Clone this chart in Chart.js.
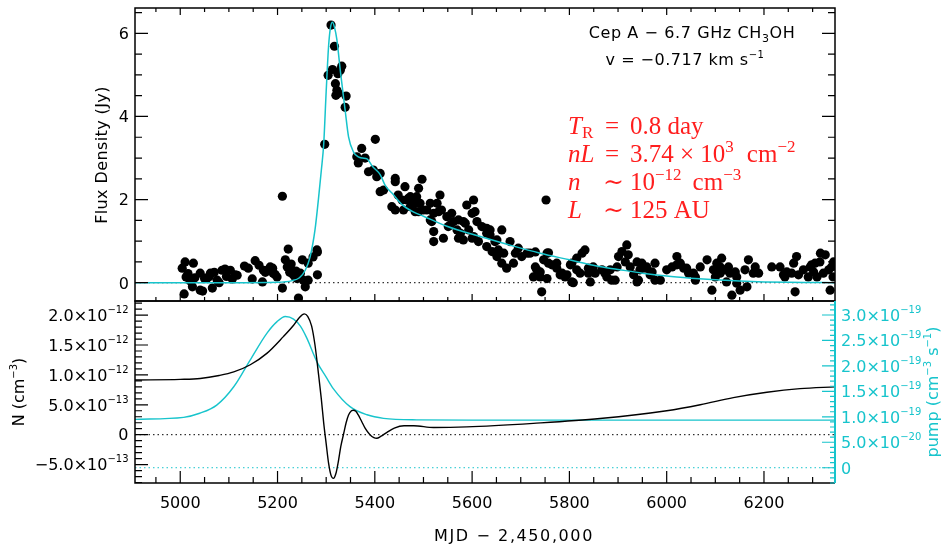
<!DOCTYPE html>
<html>
<head>
<meta charset="utf-8">
<script src="https://cdn.jsdelivr.net/npm/chart.js@4.4.1/dist/chart.umd.min.js"></script>
<style>
  html, body { margin: 0; padding: 0; background: #fff; }
  #wrap { position: relative; width: 943px; height: 544px; }
  #wrap canvas { position: absolute; left: 0; top: 0; }
</style>
</head>
<body>
<div id="wrap">
  <canvas id="fluxPanel" width="943" height="544"></canvas>
  <canvas id="modelPanel" width="943" height="544"></canvas>
</div>
<script>
// observed flux density (Jy) vs MJD - 2,450,000
const baseMjd = [5004,5008,5010,5012,5016,5020,5025,5027,5030,5041,
  5041,5046,5050,5055,5060,5062,5066,5070,5076,5080,
  5086,5092,5095,5103,5107,5113,5117,5132,5140,5148,
  5154,5162,5169,5171,5175,5179,5185,5190,5191,5195,
  5199,5210,5210,5216,5220,5222,5225,5228,5230,5232,
  5236,5238,5240,5243,5245,5247,5251,5253,5257,5263,
  5263,5273,5281,5282,5282];
const baseFlux = [0.35,-0.27,0.50,0.14,0.22,0.05,-0.10,0.47,0.12,0.23,
  -0.18,-0.20,0.10,0.11,0.15,0.23,-0.13,0.25,0.06,0.00,
  0.30,0.33,0.15,0.30,0.09,0.19,0.18,0.40,0.35,0.09,
  0.53,0.42,0.02,0.30,0.25,0.30,0.38,0.35,0.23,0.20,
  0.14,2.08,-0.13,0.55,0.38,0.81,0.25,0.45,0.30,0.20,
  0.14,0.28,0.10,-0.37,0.20,0.23,0.55,0.06,-0.10,0.06,
  0.47,0.62,0.79,0.74,0.19];

const flareMjd = [5297,5304,5310,5313,5317,5319,5320,5322,5324,5325,5329,5332,5339,5341];
const flareFlux = [3.33,4.99,6.20,5.13,5.69,4.79,4.51,4.63,5.03,4.56,5.11,5.21,4.22,4.49];

const decayMjd = [5363,5366,5373,5380,5387,5397,5401,5404,5411,5411,
  5418,5435,5442,5442,5442,5448,5456,5459,5462,5466,
  5469,5473,5473,5476,5483,5483,5486,5490,5490,5493,
  5497,5500,5507,5514,5514,5517,5521,5521,5521,5528,
  5531,5534,5537,5541,5548,5551,5555,5558,5562,5569,
  5572,5572,5576,5582,5582,5586,5589,5593,5600,5600,
  5603,5603,5606,5610,5613,5620,5630,5630,5630,5637,
  5637,5641,5647,5651,5651,5654,5661,5661,5665,5671,
  5678,5685,5689,5695,5702,5713,5719];
const decayFlux = [3.03,2.88,3.23,3.00,2.67,2.71,3.45,2.55,2.63,2.19,
  2.23,1.83,2.43,2.51,1.75,2.11,1.99,1.75,2.31,1.99,
  2.03,2.07,1.83,1.91,1.91,1.71,2.07,1.71,2.27,1.91,
  2.49,1.75,1.75,1.91,1.51,1.47,1.67,1.23,0.99,1.91,
  1.71,2.11,1.75,1.07,1.59,1.35,1.39,1.67,1.47,1.27,
  1.51,1.07,1.19,1.47,1.03,1.43,1.87,1.27,1.67,1.07,
  1.99,1.11,1.71,1.47,0.99,1.35,1.19,1.31,0.87,1.27,
  1.15,0.75,0.99,0.63,1.03,0.79,1.27,0.47,0.71,0.35,
  0.99,0.47,0.71,0.83,0.63,0.71,0.71];

const tailMjd = [5726,5730,5730,5733,5740,5740,5743,5747,5752,5754,
  5754,5757,5757,5764,5774,5774,5781,5785,5791,5795,
  5802,5805,5805,5808,5815,5815,5822,5826,5832,5839,
  5839,5843,5849,5853,5867,5873,5877,5884,5887,5894,
  5898,5901,5908,5915,5918,5921,5925,5932,5939,5939,
  5942,5945,5949,5956,5959,5966,5970,5976,5976,5987,
  6000,6011,6021,6021,6028,6035,6041,6045,6055,6059,
  6059,6069,6083,6093,6096,6100,6103,6110,6110,6113,
  6120,6123,6127,6130,6134,6141,6144,6144,6151,6161,
  6165,6168,6178,6182,6189,6216,6233,6240,6243,6247,
  6257,6261,6264,6267,6271,6281,6291,6295,6298,6302,
  6305,6309,6315,6316,6322,6326,6333,6336,6339,6342,
  6343];
const tailFlux = [0.14,0.38,0.74,0.31,0.26,0.14,-0.22,0.55,1.99,0.71,
  0.10,0.47,0.72,0.43,0.47,0.35,0.19,0.23,0.14,0.19,
  0.43,0.47,0.02,0.00,0.59,0.31,0.23,0.71,0.79,0.23,
  0.35,0.02,0.38,0.23,0.31,0.23,0.14,0.31,0.06,0.06,
  0.38,0.63,0.75,0.50,0.91,0.67,0.38,0.19,0.50,0.02,
  0.06,0.31,0.47,0.35,0.38,0.19,0.26,0.47,0.06,0.06,
  0.31,0.38,0.63,0.43,0.47,0.35,0.35,0.23,0.23,0.14,
  0.06,0.38,0.55,-0.18,0.31,0.14,0.47,0.38,0.23,0.59,
  0.31,0.02,0.38,0.23,-0.30,0.26,0.14,-0.01,-0.18,0.31,
  -0.10,0.55,0.23,0.38,0.23,0.38,0.38,0.19,0.14,0.26,
  0.23,0.47,-0.22,0.63,0.19,0.31,0.14,0.38,0.43,0.26,
  0.47,0.14,0.50,0.71,0.23,0.67,0.31,-0.18,0.38,0.14,
  0.50];

// model light curve (Jy)
const fitMjd = [4907,5000,5100,5200,5230,5245,5257,5267,5277,5284,5290,5295,5300,5305,5309,5313,5317,5322,5329,5339,
  5346,5356,5366,5375,5384,5395,5411,5421,5438,5456,5480,5500,5548,5617,5685,5740,5800,5856,5900,5950,
  6000,6050,6100,6150,6200,6250,6300,6346];
const fitFlux = [0,0,0,0.01,0.05,0.12,0.30,0.62,1.27,2.00,2.70,3.35,4.60,5.70,6.15,6.27,6.15,5.85,5.11,4.15,
  3.51,3.15,3.03,3.00,2.98,2.80,2.60,2.35,2.12,1.88,1.70,1.60,1.36,1.11,0.88,0.71,0.55,0.40,0.32,0.23,
  0.16,0.11,0.07,0.04,0.02,0.01,0.005,0];

// population N (1e-12 cm^-3)
const nMjd = [4907,5000,5041,5080,5110,5144,5178,5212,5233,5245,5255,5262,5270,5277,5284,5290,5295,5300,5305,5310,5315,
  5320,5325,5330,5336,5341,5346,5352,5356,5361,5366,5373,5380,5390,5398,5404,5412,5425,5440,5460,5480,
  5521,5589,5726,5863,6000,6069,6137,6206,6274,6346];
const nDensity = [0.915,0.925,0.94,0.99,1.05,1.17,1.36,1.64,1.83,1.96,2.02,1.98,1.82,1.50,1.03,0.60,0.19,-0.15,-0.48,-0.68,-0.73,
  -0.65,-0.45,-0.20,0.02,0.20,0.33,0.40,0.41,0.39,0.33,0.22,0.11,0.00,-0.05,-0.06,-0.03,0.04,0.11,0.15,0.15,
  0.12,0.13,0.19,0.27,0.40,0.50,0.62,0.71,0.77,0.80];

// pump rate (1e-19 cm^-3 s^-1)
const pumpMjd = [4907,5007,5040,5075,5110,5144,5178,5199,5216,5233,5247,5260,5281,5300,5315,5349,5384,5418,5486,5600,6346];
const pumpRate = [0.95,0.99,1.07,1.23,1.59,2.12,2.64,2.87,2.97,2.92,2.78,2.55,2.08,1.78,1.55,1.20,1.04,0.97,0.94,0.935,0.935];

// tick labels
const xTicks = [5000, 5200, 5400, 5600, 5800, 6000, 6200];
const fluxTicks = [0, 2, 4, 6];
const nTicks = [-0.5, 0, 0.5, 1.0, 1.5, 2.0];
const nTickText = [['\u22125.0', '\u221213'], ['0', ''], ['5.0', '\u221213'], ['1.0', '\u221212'], ['1.5', '\u221212'], ['2.0', '\u221212']];
const pumpTicks = [0, 0.5, 1.0, 1.5, 2.0, 2.5, 3.0];
const pumpTickText = [['0', ''], ['5.0', '\u221220'], ['1.0', '\u221219'], ['1.5', '\u221219'], ['2.0', '\u221219'], ['2.5', '\u221219'], ['3.0', '\u221219']];

const X_MIN = 4907, X_MAX = 6346;
const SANS = '"DejaVu Sans", sans-serif';
const SERIF = '"Liberation Serif", "DejaVu Serif", serif';
const CYAN = '#17c4cc';
const RED = '#ff1e1e';

function pts(xs, ys) { return xs.map((x, i) => ({x: x, y: ys[i]})); }

function P(t, size, dy, opt) { return Object.assign({t: t, size: size, dy: dy || 0}, opt || {}); }
function fontOf(p) { return (p.italic ? 'italic ' : '') + p.size + 'px ' + (p.family || SANS); }

function rich(ctx, parts, x, y, align, spacing) {
  ctx.letterSpacing = (spacing || 0) + 'px';
  let w = 0;
  const ws = parts.map(p => {
    ctx.font = fontOf(p);
    const m = ctx.measureText(p.t).width + (p.gap || 0);
    w += m;
    return m;
  });
  let cx = align === 'right' ? x - w : (align === 'center' ? x - w / 2 : x);
  ctx.textAlign = 'left';
  ctx.textBaseline = 'alphabetic';
  parts.forEach((p, i) => {
    ctx.font = fontOf(p);
    ctx.fillText(p.t, cx, y + p.dy);
    cx += ws[i];
  });
  ctx.letterSpacing = '0px';
}

function richUp(ctx, parts, x, y, spacing) {
  ctx.save();
  ctx.translate(x, y);
  ctx.rotate(-Math.PI / 2);
  rich(ctx, parts, 0, 0, 'center', spacing);
  ctx.restore();
}

function sci(pair) {
  return pair[1] ? [P(pair[0] + '\u00d710', 16), P(pair[1], 10, -8)] : [P(pair[0], 16)];
}

function tickMarks(ctx, scale, step, every, at, dir, longLen, shortLen, horizontal) {
  const first = Math.ceil(scale.min / step - 1e-6);
  const last = Math.floor(scale.max / step + 1e-6);
  ctx.beginPath();
  for (let i = first; i <= last; i++) {
    const p = scale.getPixelForValue(i * step);
    const len = (i % every === 0) ? longLen : shortLen;
    if (horizontal) { ctx.moveTo(p, at); ctx.lineTo(p, at + dir * len); }
    else { ctx.moveTo(at, p); ctx.lineTo(at + dir * len, p); }
  }
  ctx.stroke();
}

const fluxDecor = {
  id: 'fluxDecor',
  afterDraw(chart) {
    const ctx = chart.ctx, a = chart.chartArea;
    const xs = chart.scales.x, ys = chart.scales.y;
    ctx.save();
    ctx.strokeStyle = '#000';
    ctx.lineWidth = 1.5;
    ctx.strokeRect(a.left, a.top, a.right - a.left, a.bottom - a.top);
    ctx.lineWidth = 1.2;
    tickMarks(ctx, xs, 50, 4, a.top, 1, 7, 4, true);
    tickMarks(ctx, xs, 50, 4, a.bottom, -1, 7, 4, true);
    tickMarks(ctx, ys, 0.5, 4, a.left, 1, 13, 7, false);
    tickMarks(ctx, ys, 0.5, 4, a.right, -1, 13, 7, false);

    ctx.fillStyle = '#000';
    fluxTicks.forEach(v => rich(ctx, [P(String(v), 16)], a.left - 6, ys.getPixelForValue(v) + 5.8, 'right'));
    richUp(ctx, [P('Flux Density (Jy)', 16)], 107, 155, 0.4);

    rich(ctx, [P('Cep A \u2212 6.7 GHz CH', 16), P('3', 11, 4), P('OH', 16)], 692, 38, 'center', 0.6);
    rich(ctx, [P('v = \u22120.717 km s', 16), P('\u22121', 10, -7)], 685, 65, 'center', 0.5);

    ctx.fillStyle = RED;
    const it = {italic: true, family: SERIF}, rm = {family: SERIF};
    rich(ctx, [P('T', 25, 0, it), P('R', 17, 4, rm)], 568, 134, 'left');
    rich(ctx, [P('=', 25, 0, rm)], 605, 134, 'left');
    rich(ctx, [P('0.8 day', 25, 0, rm)], 630, 134, 'left');

    rich(ctx, [P('nL', 25, 0, it)], 568, 162, 'left');
    rich(ctx, [P('=', 25, 0, rm)], 605, 162, 'left');
    rich(ctx, [P('3.74 \u00d7 10', 25, 0, rm), P('3', 17, -10, Object.assign({gap: 13}, rm)), P('cm', 25, 0, rm), P('\u22122', 17, -10, rm)], 630, 162, 'left');

    rich(ctx, [P('n', 25, 0, it)], 568, 190, 'left');
    rich(ctx, [P('\u223c', 25, 0, rm)], 603, 190, 'left');
    rich(ctx, [P('10', 25, 0, rm), P('\u221212', 17, -10, Object.assign({gap: 11}, rm)), P('cm', 25, 0, rm), P('\u22123', 17, -10, rm)], 630, 190, 'left');

    rich(ctx, [P('L', 25, 0, it)], 568, 218, 'left');
    rich(ctx, [P('\u223c', 25, 0, rm)], 603, 218, 'left');
    rich(ctx, [P('125 AU', 25, 0, rm)], 630, 218, 'left');
    ctx.restore();
  }
};

const modelDecor = {
  id: 'modelDecor',
  afterDraw(chart) {
    const ctx = chart.ctx, a = chart.chartArea;
    const xs = chart.scales.x, yn = chart.scales.yN, yp = chart.scales.yP;
    ctx.save();
    ctx.strokeStyle = '#000';
    ctx.lineWidth = 1.5;
    ctx.beginPath();
    ctx.moveTo(a.right, a.top); ctx.lineTo(a.left, a.top);
    ctx.lineTo(a.left, a.bottom); ctx.lineTo(a.right, a.bottom);
    ctx.stroke();
    ctx.lineWidth = 1.2;
    tickMarks(ctx, xs, 50, 4, a.bottom, -1, 12, 6, true);
    tickMarks(ctx, yn, 0.1, 5, a.left, 1, 13, 7, false);

    ctx.strokeStyle = CYAN;
    ctx.lineWidth = 2;
    ctx.beginPath();
    ctx.moveTo(a.right, a.top); ctx.lineTo(a.right, a.bottom);
    ctx.stroke();
    ctx.lineWidth = 1.2;
    tickMarks(ctx, yp, 0.1, 5, a.right, -1, 13, 5, false);

    ctx.fillStyle = '#000';
    xTicks.forEach(v => rich(ctx, [P(String(v), 16)], xs.getPixelForValue(v), 508, 'center'));
    rich(ctx, [P('MJD \u2212 2,450,000', 16)], 514, 540.5, 'center', 1.6);
    nTicks.forEach((v, i) => rich(ctx, sci(nTickText[i]), a.left - 6.5, yn.getPixelForValue(v) + 5.8, 'right'));
    richUp(ctx, [P('N (cm', 16), P('\u22123', 10, -7), P(')', 16)], 23.5, 392);

    ctx.fillStyle = CYAN;
    pumpTicks.forEach((v, i) => rich(ctx, sci(pumpTickText[i]), a.right + 6, yp.getPixelForValue(v) + 5.8, 'left'));
    richUp(ctx, [P('pump (cm', 16), P('\u22123', 10, -7), P(' s', 16), P('\u22121', 10, -7), P(')', 16)], 938, 392);
    ctx.restore();
  }
};

const observed = pts(baseMjd, baseFlux)
  .concat(pts(flareMjd, flareFlux))
  .concat(pts(decayMjd, decayFlux))
  .concat(pts(tailMjd, tailFlux));

const common = {
  responsive: false,
  animation: false,
  events: [],
  plugins: { legend: { display: false }, tooltip: { enabled: false } }
};

new Chart(document.getElementById('fluxPanel'), {
  type: 'scatter',
  data: {
    datasets: [
      { type: 'line', data: pts(fitMjd, fitFlux), borderColor: CYAN, borderWidth: 1.5, pointRadius: 0,
        cubicInterpolationMode: 'monotone', order: 0 },
      { data: observed, pointRadius: 4.6, backgroundColor: '#000', borderWidth: 0, order: 1 },
      { type: 'line', data: [{x: X_MIN, y: 0}, {x: X_MAX, y: 0}], borderColor: '#000', borderWidth: 1,
        borderDash: [1.5, 3], pointRadius: 0, order: 2 }
    ]
  },
  options: Object.assign({}, common, {
    layout: { padding: { left: 135, right: 108, top: 8, bottom: 243 } },
    scales: {
      x: { type: 'linear', min: X_MIN, max: X_MAX, display: false },
      y: { type: 'linear', min: -0.44, max: 6.61, display: false }
    }
  }),
  plugins: [fluxDecor]
});

new Chart(document.getElementById('modelPanel'), {
  type: 'scatter',
  data: {
    datasets: [
      { type: 'line', data: pts(nMjd, nDensity), yAxisID: 'yN', borderColor: '#000', borderWidth: 1.4,
        pointRadius: 0, cubicInterpolationMode: 'monotone' },
      { type: 'line', data: pts(pumpMjd, pumpRate), yAxisID: 'yP', borderColor: CYAN, borderWidth: 1.4,
        pointRadius: 0, cubicInterpolationMode: 'monotone' },
      { type: 'line', data: [{x: X_MIN, y: 0}, {x: X_MAX, y: 0}], yAxisID: 'yN', borderColor: '#000',
        borderWidth: 1, borderDash: [1.5, 3], pointRadius: 0 },
      { type: 'line', data: [{x: X_MIN, y: 0}, {x: X_MAX, y: 0}], yAxisID: 'yP', borderColor: CYAN,
        borderWidth: 1, borderDash: [1.5, 3], pointRadius: 0 }
    ]
  },
  options: Object.assign({}, common, {
    layout: { padding: { left: 135, right: 108, top: 301, bottom: 61 } },
    scales: {
      x: { type: 'linear', min: X_MIN, max: X_MAX, display: false },
      yN: { type: 'linear', position: 'left', min: -0.808, max: 2.236, display: false },
      yP: { type: 'linear', position: 'right', min: -0.30, max: 3.275, display: false }
    }
  }),
  plugins: [modelDecor]
});
</script>
</body>
</html>
